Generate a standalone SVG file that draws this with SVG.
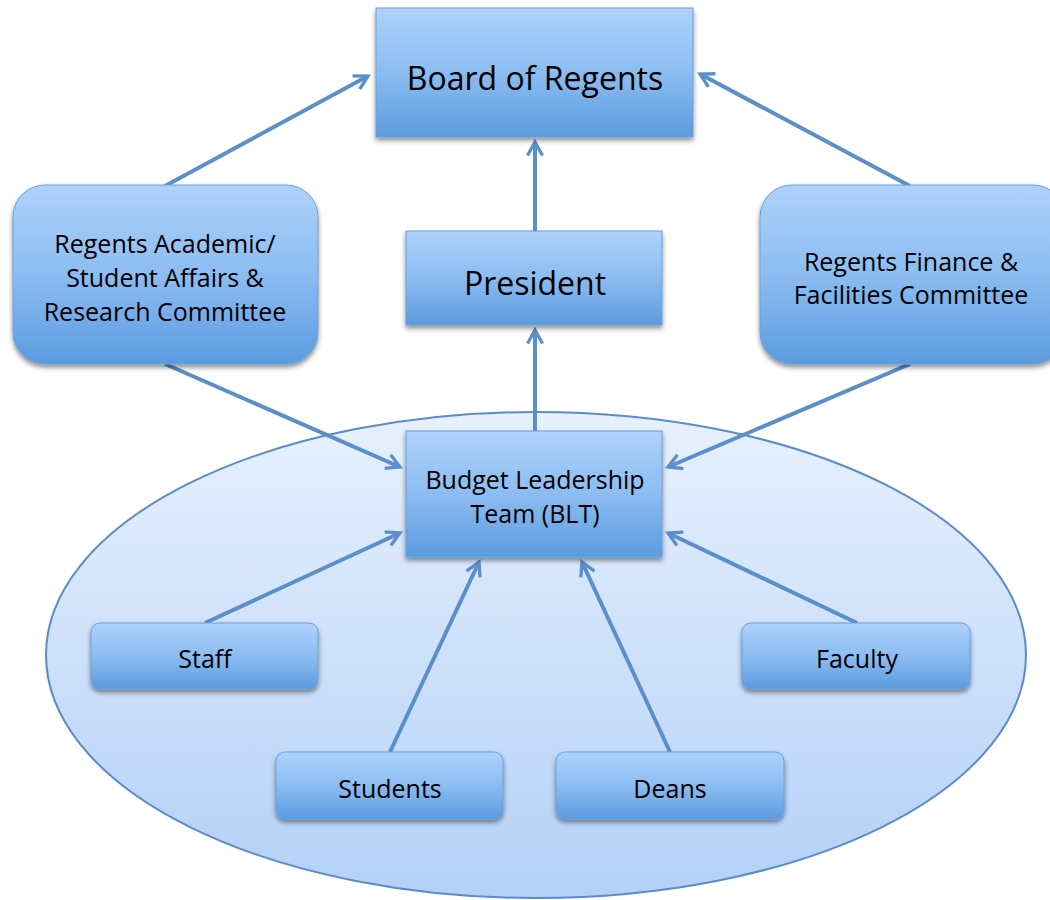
<svg xmlns="http://www.w3.org/2000/svg" width="1050" height="900" viewBox="0 0 1050 900">
<defs>
<linearGradient id="box" x1="0" y1="0" x2="0" y2="1">
<stop offset="0" stop-color="#aed2fb"/>
<stop offset="0.5" stop-color="#8cbcf1"/>
<stop offset="1" stop-color="#5b9be0"/>
</linearGradient>
<linearGradient id="ell" x1="0" y1="0" x2="0" y2="1">
<stop offset="0" stop-color="#e8f1fd"/>
<stop offset="1" stop-color="#b3d0f7"/>
</linearGradient>
<filter id="sh" x="-10%" y="-10%" width="120%" height="130%">
<feGaussianBlur in="SourceAlpha" stdDeviation="2.5"/>
<feOffset dx="0" dy="3" result="b"/>
<feComponentTransfer><feFuncA type="linear" slope="0.45"/></feComponentTransfer>
<feMerge><feMergeNode/><feMergeNode in="SourceGraphic"/></feMerge>
</filter>
<marker id="arr" viewBox="0 0 12 12" refX="10" refY="6" markerWidth="4.5" markerHeight="4.5" orient="auto" markerUnits="strokeWidth">
<path d="M1,1 L10,6 L1,11" fill="none" stroke="#5b8fca" stroke-width="2.2" stroke-linejoin="miter"/>
</marker>
</defs>
<style>
.node{fill:url(#box);stroke:#6a9fd8;stroke-width:1;filter:url(#sh)}
.t{font-family:"Open Sans","Liberation Sans",sans-serif;fill:#000;text-anchor:middle}
.c{stroke:#5b8fca;stroke-width:4;fill:none;marker-end:url(#arr)}
</style>
<rect width="1050" height="900" fill="#ffffff"/>
<ellipse id="ellipse" cx="536" cy="655" rx="490" ry="243" fill="url(#ell)" stroke="#5a8ccb" stroke-width="2"/>
<g id="connectors">
<line class="c" x1="165" y1="186" x2="368" y2="76"/>
<line class="c" x1="910" y1="186" x2="700" y2="74"/>
<line class="c" x1="535" y1="232" x2="535" y2="142"/>
<line class="c" x1="535" y1="432" x2="535" y2="330"/>
<line class="c" x1="165" y1="364" x2="400" y2="467"/>
<line class="c" x1="910" y1="364" x2="668" y2="467"/>
<line class="c" x1="205" y1="623" x2="400" y2="533"/>
<line class="c" x1="390" y1="752" x2="479" y2="562"/>
<line class="c" x1="670" y1="752" x2="582" y2="562"/>
<line class="c" x1="857" y1="623" x2="668" y2="533"/>
</g>
<g id="board">
<rect class="node" x="376" y="8" width="317" height="129"/>
<text class="t" x="535" y="90" font-size="32">Board of Regents</text>
</g>
<g id="president">
<rect class="node" x="406" y="231" width="256" height="94"/>
<text class="t" x="535" y="295" font-size="32">President</text>
</g>
<g id="academic">
<rect class="node" x="13" y="185" width="305" height="179" rx="32"/>
<text class="t" font-size="25"><tspan x="165" y="253">Regents Academic/</tspan><tspan x="165" y="287">Student Affairs &amp;</tspan><tspan x="165" y="321">Research Committee</tspan></text>
</g>
<g id="finance">
<rect class="node" x="760" y="185" width="305" height="179" rx="32"/>
<text class="t" font-size="25"><tspan x="911" y="271">Regents Finance &amp;</tspan><tspan x="911" y="304">Facilities Committee</tspan></text>
</g>
<g id="blt">
<rect class="node" x="406" y="431" width="256" height="126"/>
<text class="t" font-size="25"><tspan x="535" y="489">Budget Leadership</tspan><tspan x="535" y="523">Team (BLT)</tspan></text>
</g>
<g id="staff">
<rect class="node" x="91" y="623" width="227" height="66" rx="9"/>
<text class="t" x="205" y="668" font-size="25">Staff</text>
</g>
<g id="faculty">
<rect class="node" x="742" y="623" width="228" height="66" rx="9"/>
<text class="t" x="857" y="668" font-size="25">Faculty</text>
</g>
<g id="students">
<rect class="node" x="276" y="752" width="227" height="67" rx="9"/>
<text class="t" x="390" y="798" font-size="25">Students</text>
</g>
<g id="deans">
<rect class="node" x="556" y="752" width="228" height="67" rx="9"/>
<text class="t" x="670" y="798" font-size="25">Deans</text>
</g>
</svg>
